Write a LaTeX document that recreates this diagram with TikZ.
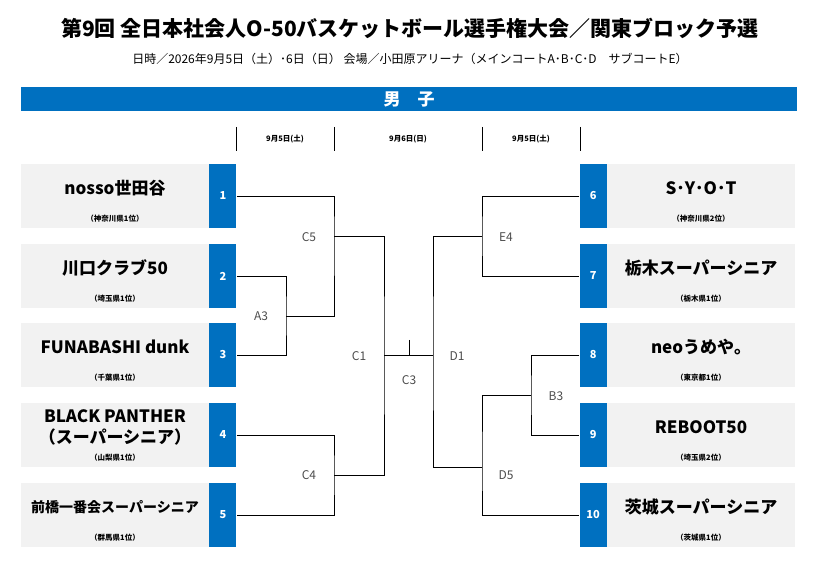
\documentclass[tikz,border=0pt]{standalone}
\usepackage{fontspec}
\setmainfont{Noto Sans CJK JP}
\usetikzlibrary{positioning}
\definecolor{bandblue}{HTML}{0070C0}
\definecolor{boxgray}{HTML}{F2F2F2}
\tikzset{
    team/.style={fill=boxgray,inner sep=0pt,minimum width=188pt,minimum height=64pt},
    seed/.style={fill=bandblue,text=white,font=\fontsize{11}{11}\selectfont\bfseries,inner sep=0pt,minimum width=27pt,minimum height=64pt},
    tname/.style={font=\fontsize{17}{21}\selectfont\bfseries,align=center},
    pref/.style={font=\fontsize{7.5}{7.5}\selectfont\bfseries},
    game/.style={font=\fontsize{12}{12}\selectfont,text=black!70},
    day/.style={font=\fontsize{7.5}{7.5}\selectfont\bfseries},
    br/.style={line width=0.8pt}
}
\begin{document}
\begin{tikzpicture}[x=1pt,y=-1pt]
        \useasboundingbox (0,0) rectangle (831,561);
        \node [font=\fontsize{21}{21}\selectfont\bfseries] (title) at (410,28) {第9回 全日本社会人O-50バスケットボール選手権大会／関東ブロック予選};
        \node [font=\fontsize{12}{12}\selectfont] (info) at (410,59) {日時／2026年9月5日（土）･6日（日） 会場／小田原アリーナ（メインコートA･B･C･D　サブコートE）};
        \node [fill=bandblue,minimum width=776pt,minimum height=24pt,inner sep=0pt,text=white,font=\fontsize{17}{17}\selectfont\bfseries] (band) at (409,99) {男　子};
        % day columns
        \foreach \x in {236,334,482,580} {
            \draw [line width=0.6pt] (\x,127) -- (\x,151);
        }
        \node [day] (d1) at (285,139) {9月5日(土)};
        \node [day] (d2) at (408,139) {9月6日(日)};
        \node [day] (d3) at (531,139) {9月5日(土)};
        % teams left
        \foreach \i/\y/\name/\pr in {
            1/196/nosso世田谷/（神奈川県1位）,
            2/276/川口クラブ50/（埼玉県1位）,
            3/355/FUNABASHI dunk/（千葉県1位）,
            4/435/{BLACK PANTHER\\（スーパーシニア）}/（山梨県1位）,
            5/515/{\fontsize{14}{14}\selectfont 前橋一番会スーパーシニア}/（群馬県1位）} {
            \node [team] (t\i) at (115,\y) {};
            \node [seed,right=0pt of t\i] (n\i) {\i};
            \node [tname] at ([yshift=8pt]t\i.center) {\name};
            \node [pref] at ([yshift=-23pt]t\i.center) {\pr};
        }
        % teams right
        \foreach \i/\y/\name/\pr in {
            6/196/S･Y･O･T/（神奈川県2位）,
            7/276/栃木スーパーシニア/（栃木県1位）,
            8/355/neoうめや。/（東京都1位）,
            9/435/REBOOT50/（埼玉県2位）,
            10/515/茨城スーパーシニア/（茨城県1位）} {
            \node [team] (t\i) at (701,\y) {};
            \node [seed,left=0pt of t\i] (n\i) {\i};
            \node [tname] at ([yshift=8pt]t\i.center) {\name};
            \node [pref] at ([yshift=-23pt]t\i.center) {\pr};
        }
        % joins
        \coordinate (a3) at (286,316);
        \coordinate (c5) at (334,236);
        \coordinate (c4) at (334,475);
        \coordinate (c1) at (384,355);
        \coordinate (e4) at (482,236);
        \coordinate (b3) at (531,395);
        \coordinate (d5) at (482,467);
        \coordinate (d1) at (433,355);
        \coordinate (c3) at (409,340);
        % brackets
        \draw [br] (n2.east) -| (a3) |- (n3.east);
        \draw [br] (n1.east) -| (c5) |- (a3);
        \draw [br] (n4.east) -| (c4) |- (n5.east);
        \draw [br] (c5) -| (c1) |- (c4);
        \draw [br] (n6.west) -| (e4) |- (n7.west);
        \draw [br] (n8.west) -| (b3) |- (n9.west);
        \draw [br] (b3) -| (d5) |- (n10.west);
        \draw [br] (e4) -| (d1) |- (d5);
        \draw [br] (c1) -- (d1);
        \draw [br] (c3) -- (c3 |- c1);
        % game labels
        \node [game] at (261,316) {A3};
        \node [game] at (309,237) {C5};
        \node [game] at (309,475) {C4};
        \node [game] at (359,356) {C1};
        \node [game] at (409,380) {C3};
        \node [game] at (457,356) {D1};
        \node [game] at (506,237) {E4};
        \node [game] at (556,396) {B3};
        \node [game] at (506,475) {D5};
\end{tikzpicture}
\end{document}
